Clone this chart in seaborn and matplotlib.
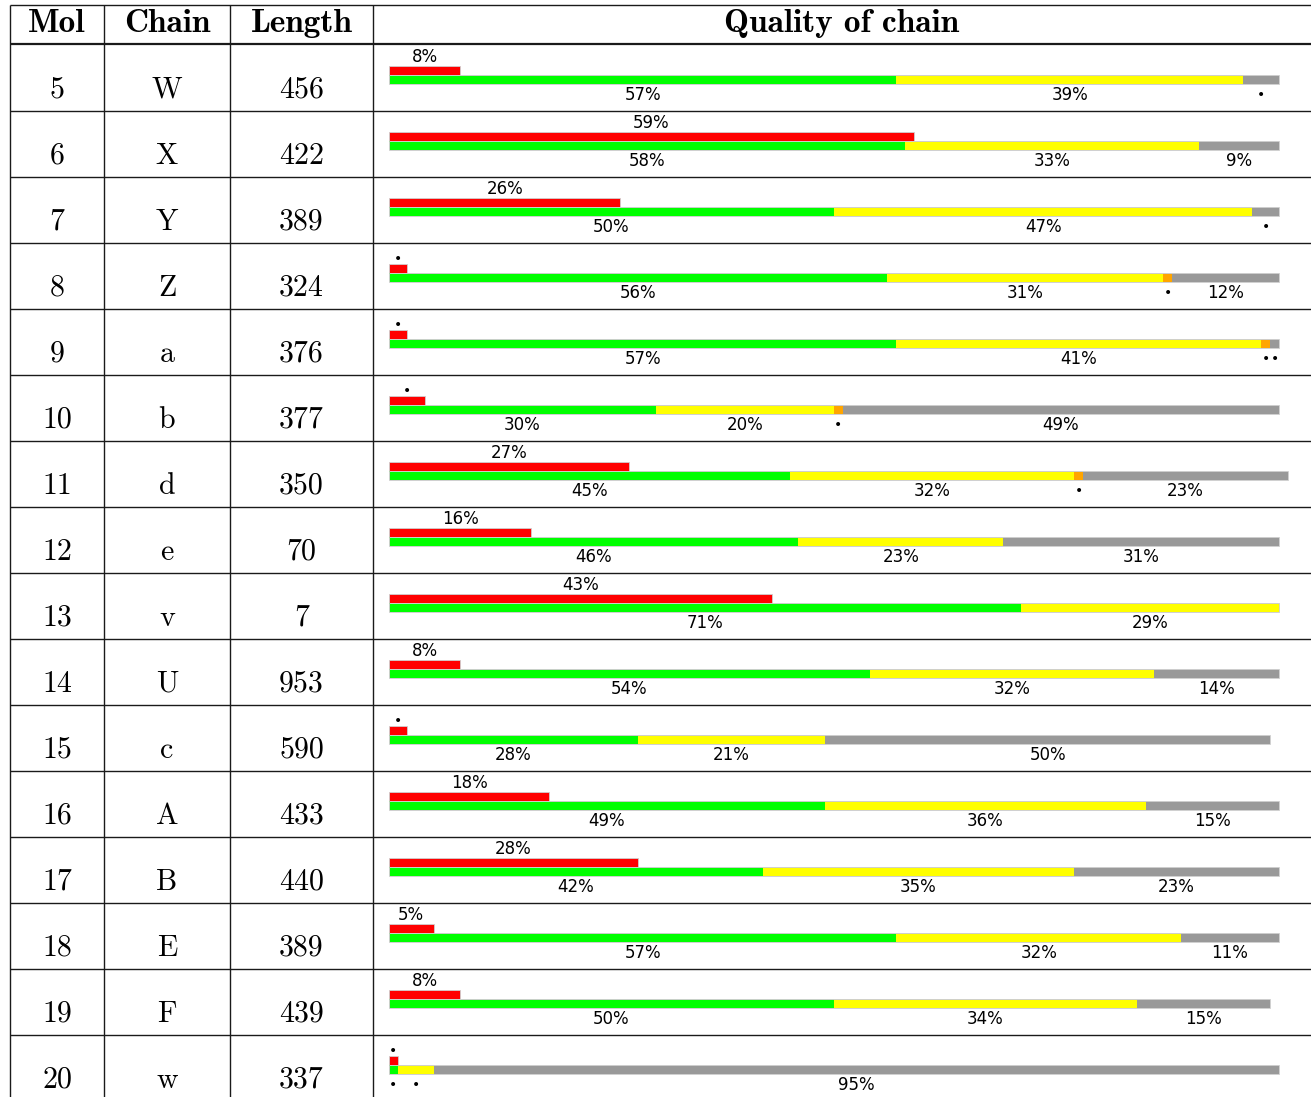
import matplotlib
matplotlib.use("Agg")
import matplotlib.pyplot as plt
import seaborn as sns
import pandas as pd

# ---------------- data ----------------
mol = [5, 6, 7, 8, 9, 10, 11, 12, 13, 14, 15, 16, 17, 18, 19, 20]
chain = ["W", "X", "Y", "Z", "a", "b", "d", "e", "v", "U", "c", "A", "B", "E", "F", "w"]
length = [456, 422, 389, 324, 376, 377, 350, 70, 7, 953, 590, 433, 440, 389, 439, 337]
outliers = [8, 59, 26, 2, 2, 4, 27, 16, 43, 8, 2, 18, 28, 5, 8, 1]
good = [57, 58, 50, 56, 57, 30, 45, 46, 71, 54, 28, 49, 42, 57, 50, 1]
fair = [39, 33, 47, 31, 41, 20, 32, 23, 29, 32, 21, 36, 35, 32, 34, 4]
poor = [0, 0, 0, 1, 1, 1, 1, 0, 0, 0, 0, 0, 0, 0, 0, 0]
missing = [4, 9, 3, 12, 1, 49, 23, 31, 0, 14, 50, 15, 23, 11, 15, 95]
headers = ["Mol", "Chain", "Length", "Quality of chain"]

seg_colors = ["#00ff00", "#ffff00", "#ffa500", "#999999"]
red = "#ff0000"

# ---------------- layout (pixels) ----------------
W, H = 1311, 1097
DPI = 100
row_top0 = 45
row_h = 66
bar_x0 = 389
px_per_pct = 8.9
col_lines = [10, 104, 230, 373]
col_centers = [57, 167, 301.5, 842]

sns.set_theme(style="white")
plt.rcParams["font.family"] = ["DejaVu Sans"]

fig = plt.figure(figsize=(W / DPI, H / DPI), dpi=DPI)
fig.patch.set_facecolor("white")

# table axes in pixel coordinates
ax = fig.add_axes([0, 0, 1, 1])
ax.set_xlim(0, W)
ax.set_ylim(H, 0)
ax.axis("off")

n = len(mol)
line_c = "#1a1a1a"
ax.hlines(5, col_lines[0], W, color=line_c, lw=1.0)
ax.hlines(44, col_lines[0], W, color=line_c, lw=1.6)
for k in range(1, n):
    ax.hlines(row_top0 + row_h * k, col_lines[0], W, color=line_c, lw=1.0)
ax.vlines(col_lines, 5, H, color=line_c, lw=1.0)

for xc, h in zip(col_centers, headers):
    ax.text(xc, 32, h, ha="center", va="baseline", fontsize=24, family="cmb10", color="black")

for i in range(n):
    base = row_top0 + row_h * i + 53
    for xc, t in zip(col_centers[:3], [str(mol[i]), chain[i], str(length[i])]):
        ax.text(xc, base, t, ha="center", va="baseline", fontsize=21.5, family="cmr10", color="black")

# bar axes: x in percent, y in row index (categorical)
x_max = (W - bar_x0) / px_per_pct
axb = fig.add_axes([bar_x0 / W, 0, (W - bar_x0) / W, 1])
axb.patch.set_alpha(0)

bar_h = 9 / row_h
df = pd.DataFrame({"mol": [str(m) for m in mol], "outliers": outliers})
sns.barplot(data=df, x="outliers", y="mol", orient="h", color=red, saturation=1,
            width=bar_h, errorbar=None, ax=axb, edgecolor="#cfcfcf", linewidth=0.6)

ypos = list(range(n))
green_y = [y + bar_h for y in ypos]
left = [0] * n
for vals, c in zip([good, fair, poor, missing], seg_colors):
    axb.barh(green_y, vals, left=left, height=bar_h, color=c, edgecolor="none", linewidth=0)
    left = [l + v for l, v in zip(left, vals)]
axb.barh(green_y, left, left=0, height=bar_h, fill=False, edgecolor="#cfcfcf", linewidth=0.7)

off_red_lab = (16.5 - 25.5) / row_h
off_red_dot = (16 - 25.5) / row_h
off_low_lab = (54.5 - 25.5) / row_h
off_low_dot = (49.5 - 25.5) / row_h

for i in range(n):
    v = outliers[i]
    if v >= 5:
        axb.text(v / 2, i + off_red_lab, f"{v}%", ha="center", va="baseline", fontsize=12, color="black")
    elif v > 0:
        axb.text(v / 2, i + off_red_dot, "\u2022", ha="center", va="center", fontsize=10, color="black")
    start = 0
    for vals in [good, fair, poor, missing]:
        v = vals[i]
        if v > 0:
            xc = start + v / 2
            if v >= 5:
                axb.text(xc, i + off_low_lab, f"{v}%", ha="center", va="baseline", fontsize=12, color="black")
            else:
                axb.text(xc, i + off_low_dot, "\u2022", ha="center", va="center", fontsize=10, color="black")
        start += v

y_top = (0 - row_top0 - 25.5) / row_h
y_bot = (H - row_top0 - 25.5) / row_h
axb.set_xlim(0, x_max)
axb.set_ylim(y_bot, y_top)
axb.axis("off")

fig.savefig("out.png", dpi=DPI, facecolor="white")
